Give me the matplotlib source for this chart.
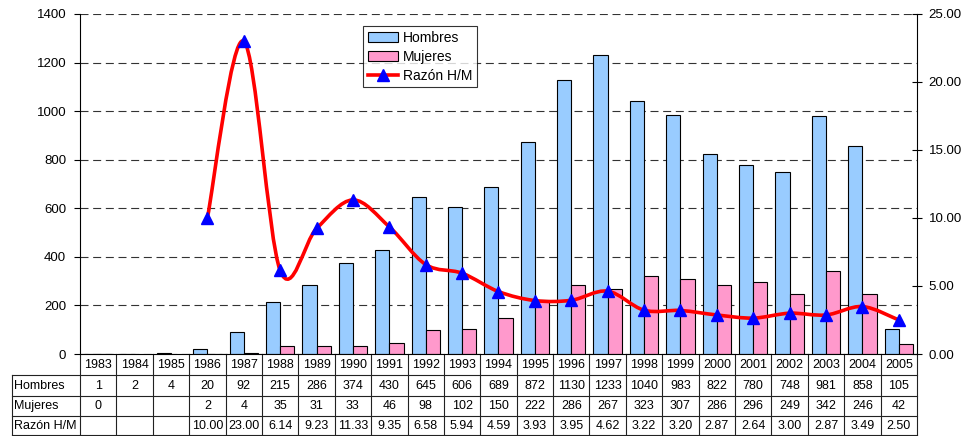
import matplotlib
matplotlib.use("Agg")
import matplotlib.pyplot as plt
from matplotlib.path import Path
from matplotlib.patches import PathPatch, Patch
from matplotlib.lines import Line2D
import numpy as np

plt.rcParams["font.family"] = ["Liberation Sans", "DejaVu Sans"]

# Datos
anios = [str(a) for a in range(1983, 2006)]
hombres = [1, 2, 4, 20, 92, 215, 286, 374, 430, 645, 606, 689, 872, 1130,
           1233, 1040, 983, 822, 780, 748, 981, 858, 105]
mujeres = [0, None, None, 2, 4, 35, 31, 33, 46, 98, 102, 150, 222, 286,
           267, 323, 307, 286, 296, 249, 342, 246, 42]
razon = [None, None, None, 10.00, 23.00, 6.14, 9.23, 11.33, 9.35, 6.58, 5.94,
         4.59, 3.93, 3.95, 4.62, 3.22, 3.20, 2.87, 2.64, 3.00, 2.87, 3.49, 2.50]

AZUL = "#99CCFF"
ROSA = "#FF99CC"
W, H = 962, 436

fig = plt.figure(figsize=(W / 100, H / 100), dpi=100)
# area del grafico en pixeles: x 80-917, y 14-354
ax = fig.add_axes([80 / W, (H - 354) / H, 837 / W, 340 / H])
ax2 = ax.twinx()

x = np.arange(len(anios))
bw = 0.39
ax.bar(x - bw / 2, hombres, width=bw, color=AZUL, edgecolor="black", linewidth=0.8, zorder=2)
muj_vals = [m if m is not None else np.nan for m in mujeres]
ax.bar(x + bw / 2, muj_vals, width=bw, color=ROSA, edgecolor="black", linewidth=0.8, zorder=2)

ax.set_xlim(-0.5, len(anios) - 0.5)
ax.set_ylim(0, 1400)
ax.set_yticks(range(0, 1401, 200))
ax.set_xticks([])
ax.yaxis.grid(True, linestyle=(0, (7.2, 4.2)), color="#333333", linewidth=0.8)
ax.set_axisbelow(True)
ax.tick_params(axis="y", direction="out", length=4, labelsize=9.5, pad=6)
for s in ["top", "right"]:
    ax.spines[s].set_visible(False)
ax.spines["bottom"].set_linewidth(0.8)
ax.spines["left"].set_linewidth(0.8)

# linea suavizada (bezier estilo Excel)
pts = [(i, r) for i, r in enumerate(razon) if r is not None]
verts = [pts[0]]
codes = [Path.MOVETO]
n = len(pts)
for k in range(n - 1):
    p0 = pts[k - 1] if k > 0 else pts[k]
    p1 = pts[k]
    p2 = pts[k + 1]
    p3 = pts[k + 2] if k + 2 < n else pts[k + 1]
    c1 = (p1[0] + (p2[0] - p0[0]) / 6, p1[1] + (p2[1] - p0[1]) / 6)
    c2 = (p2[0] - (p3[0] - p1[0]) / 6, p2[1] - (p3[1] - p1[1]) / 6)
    verts += [c1, c2, p2]
    codes += [Path.CURVE4] * 3
ax2.add_patch(PathPatch(Path(verts, codes), facecolor="none", edgecolor="#FF0000",
                        linewidth=2.6, zorder=3, capstyle="round", joinstyle="round"))
ax2.plot([p[0] for p in pts], [p[1] for p in pts], linestyle="none", marker="^",
         color="#0000FF", markersize=8, zorder=4)

ax2.set_ylim(0, 25)
ax2.set_yticks(range(0, 26, 5))
ax2.set_yticklabels([f"{v:.2f}" for v in range(0, 26, 5)])
ax2.tick_params(axis="y", direction="inout", length=7, labelsize=9.5, pad=5)
for s in ["top", "left", "bottom"]:
    ax2.spines[s].set_visible(False)
ax2.spines["right"].set_linewidth(0.8)

# leyenda
handles = [Patch(facecolor=AZUL, edgecolor="black", linewidth=0.8),
           Patch(facecolor=ROSA, edgecolor="black", linewidth=0.8),
           Line2D([], [], color="#FF0000", linewidth=2.6, marker="^",
                  markerfacecolor="#0000FF", markeredgecolor="#0000FF", markersize=8)]
leg = fig.legend(handles, ["Hombres", "Mujeres", "Razón H/M"], loc="upper left",
                 bbox_to_anchor=(363 / W, 1 - 26 / H), fontsize=10, frameon=True,
                 fancybox=False, handlelength=2.2, handleheight=0.8, handletextpad=0.3,
                 labelspacing=0.35, borderpad=0.35, borderaxespad=0)
leg.get_frame().set_edgecolor("black")
leg.get_frame().set_linewidth(0.8)

# tabla de datos
def ya(py):
    return (354 - py) / 340

def xa(px):
    return (px - 80) / 837

tr = ax.transAxes
bt = ax.get_xaxis_transform()
filas = [375, 396, 416, 435]
lw = 0.8
col = "#222222"
# lineas horizontales
for py in filas:
    ax.plot([xa(12), 1], [ya(py), ya(py)], transform=tr, color=col, lw=lw, clip_on=False)
# bordes verticales
ax.plot([xa(12), xa(12)], [ya(375), ya(435)], transform=tr, color=col, lw=lw, clip_on=False)
for b in np.arange(len(anios) + 1) - 0.5:
    ax.plot([b, b], [ya(354), ya(435)], transform=bt, color=col, lw=lw, clip_on=False)

fs = 9
ymid = [(354 + 375) / 2, (375 + 396) / 2, (396 + 416) / 2, (416 + 435) / 2]
for i, a in enumerate(anios):
    ax.text(i, ya(ymid[0]), a, transform=bt, ha="center", va="center", fontsize=fs)
    ax.text(i, ya(ymid[1]), str(hombres[i]), transform=bt, ha="center", va="center", fontsize=fs)
    if mujeres[i] is not None:
        ax.text(i, ya(ymid[2]), str(mujeres[i]), transform=bt, ha="center", va="center", fontsize=fs)
    if razon[i] is not None:
        ax.text(i, ya(ymid[3]), f"{razon[i]:.2f}", transform=bt, ha="center", va="center", fontsize=fs)
for etiqueta, ym in zip(["Hombres", "Mujeres", "Razón H/M"], ymid[1:]):
    ax.text(xa(14), ya(ym), etiqueta, transform=tr, ha="left", va="center", fontsize=fs)

fig.savefig("out.png", dpi=100)
